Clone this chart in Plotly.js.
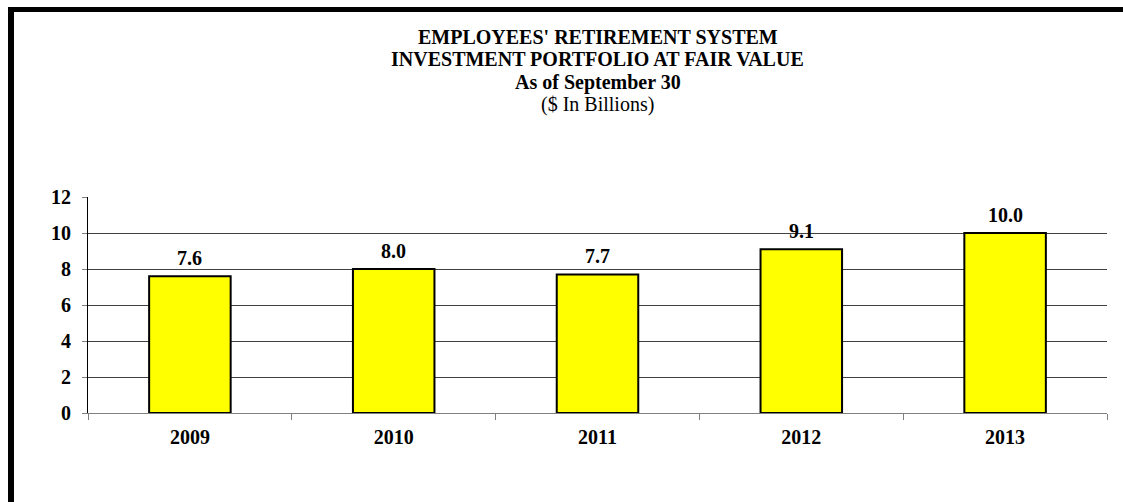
<!DOCTYPE html>
<html>
<head>
<meta charset="utf-8">
<script src="https://cdn.plot.ly/plotly-3.0.1.min.js"></script>
<style>
  html, body { margin: 0; padding: 0; background: #fff; }
  #chart { width: 1123px; height: 502px; position: relative; }
  #frame { position: absolute; left: 8px; top: 7px; width: 1115px; height: 495px;
           border-left: 6px solid #000; border-top: 5px solid #000; box-sizing: border-box;
           pointer-events: none; }
</style>
</head>
<body>
<div style="position:relative;width:1123px;height:502px;">
  <div id="chart"></div>
  <div id="frame"></div>
</div>
<script>
const years = ['2009', '2010', '2011', '2012', '2013'];
const values = [7.6, 8.0, 7.7, 9.1, 10.0];
const yTicks = [0, 2, 4, 6, 8, 10, 12];
const titleLines = [
  "EMPLOYEES' RETIREMENT SYSTEM",
  "INVESTMENT PORTFOLIO AT FAIR VALUE",
  "As of September 30",
  "($ In Billions)"
];
const titleBold = [true, true, true, false];

const serif = 'Liberation Serif';

const H = 502, marginT = 197, marginB = 89;
const plotH = H - marginT - marginB;
const toPaperY = (py) => (H - marginB - py) / plotH;
const titleY = [37, 59, 82, 104];

const trace = {
  type: 'bar',
  x: years,
  y: values,
  marker: { color: '#FFFF00', line: { color: '#000000', width: 2 } },
  hoverinfo: 'none'
};

const valueAnnotations = years.map((yr, i) => ({
  x: i, y: values[i], xref: 'x', yref: 'y',
  text: '<b>' + values[i].toFixed(1) + '</b>',
  showarrow: false, yanchor: 'bottom', yshift: 5,
  font: { family: serif, size: 20, color: '#000' }
}));

const titleAnnotations = titleLines.map((t, i) => ({
  x: 0.5, xref: 'paper', xanchor: 'center',
  y: toPaperY(titleY[i]), yref: 'paper', yanchor: 'middle',
  text: titleBold[i] ? '<b>' + t + '</b>' : t,
  showarrow: false,
  font: { family: serif, size: 20, color: '#000' }
}));

const layout = {
  width: 1123, height: H,
  margin: { l: 88, r: 16, t: marginT, b: marginB },
  paper_bgcolor: '#ffffff',
  plot_bgcolor: '#ffffff',
  showlegend: false,
  bargap: 0.6,
  font: { family: serif, color: '#000' },
  xaxis: {
    type: 'category',
    range: [-0.5, years.length - 0.5],
    autorange: false,
    showline: true, linecolor: '#808080', linewidth: 1,
    ticks: 'outside', ticklen: 6, tickcolor: '#808080', tickson: 'boundaries',
    showgrid: false, zeroline: false,
    tickangle: 0,
    tickfont: { family: serif, size: 20, color: '#000', weight: 'bold' },
    ticklabelstandoff: 6
  },
  yaxis: {
    range: [0, 12],
    autorange: false,
    tickvals: yTicks,
    ticktext: yTicks.map(String),
    showline: true, linecolor: '#000', linewidth: 1,
    ticks: 'outside', ticklen: 5, tickcolor: '#808080',
    showgrid: true, gridcolor: '#404040', gridwidth: 1,
    zeroline: false,
    tickfont: { family: serif, size: 20, color: '#000', weight: 'bold' },
    ticklabelstandoff: 7
  },
  annotations: titleAnnotations.concat(valueAnnotations)
};

Plotly.newPlot('chart', [trace], layout, { staticPlot: true, displayModeBar: false });
</script>
</body>
</html>
